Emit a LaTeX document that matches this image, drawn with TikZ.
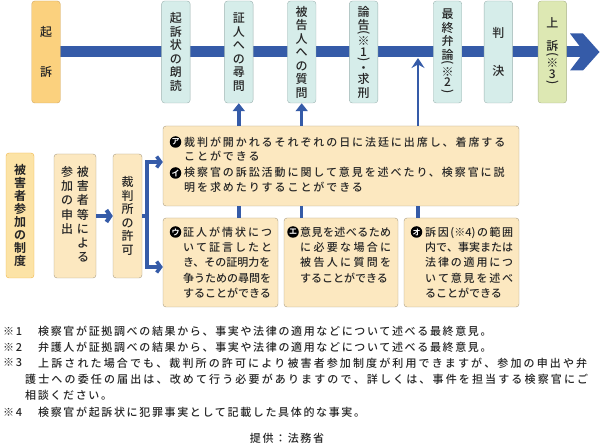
\documentclass[tikz,border=0pt]{standalone}
\usepackage{fontspec}
\setmainfont{Noto Sans CJK JP}[UprightFont=* Medium, BoldFont=* Bold]
\newfontfamily\jpwide{Noto Sans CJK JP}[UprightFont=* Medium, LetterSpace=17.5]
\newfontfamily\jpnote{Noto Sans CJK JP}[UprightFont=* Medium, LetterSpace=15]
\usepackage{graphicx}
\usetikzlibrary{arrows.meta,backgrounds,positioning}

\definecolor{flowblue}{HTML}{355BA8}
\definecolor{tealfill}{HTML}{D6EDEA}
\definecolor{tealedge}{HTML}{9DB3B1}
\definecolor{kisofill}{HTML}{FBD17E}
\definecolor{kisoedge}{HTML}{D3A65C}
\definecolor{appealfill}{HTML}{DDE8B3}
\definecolor{appealedge}{HTML}{A9B38A}
\definecolor{creamfill}{HTML}{FCE8C0}
\definecolor{creamedge}{HTML}{A99C82}
\definecolor{systemfill}{HTML}{FCE3A6}
\definecolor{systemedge}{HTML}{F0B445}
\definecolor{textgrey}{HTML}{262626}

% vertical brackets for the stacked labels
\newcommand\vparen[1]{\rotatebox[origin=c]{-90}{#1}}

% stretch one line of kana/kanji to a given width
\makeatletter
\newcommand\spreadline[2]{\makebox[#1][s]{\spread@first#2\@nil}}
\def\spread@first#1{#1\spread@rest}
\def\spread@rest#1{\ifx\@nil#1\else\hfil#1\expandafter\spread@rest\fi}
\makeatother

\begin{document}
\begin{tikzpicture}[x=1pt,y=-1pt,
  stage/.style={draw=tealedge, fill=tealfill, rounded corners=3pt, minimum width=28.5pt,
    minimum height=102pt, inner sep=0pt, align=center, text=textgrey,
    font=\fontsize{12}{13.5}\selectfont},
  lowbox/.style={draw=creamedge, fill=creamfill, rounded corners=3pt, inner sep=0pt},
  boxtext/.style={inner sep=0pt, align=left, anchor=west, text=textgrey,
    font=\fontsize{11}{15.2}\selectfont},
  widetext/.style={boxtext, font=\jpwide\fontsize{11}{14.5}\selectfont},
  marker/.style={circle, fill=black, text=white, inner sep=0pt, minimum size=11.5pt,
    font=\bfseries\fontsize{8}{8}\selectfont},
  note/.style={inner sep=0pt, anchor=west, text=textgrey, font=\jpnote\fontsize{11}{13}\selectfont},
  bar/.style={draw=flowblue, line width=11pt},
  link/.style={draw=flowblue, line width=3.5pt},
  uparrow/.style={link, -{Triangle[length=8pt,width=12pt]}},
  chev/.style={link, line width=4pt, -{Straight Barb[length=4pt,width=12pt]}},
  thinup/.style={draw=flowblue, line width=2.6pt, -{Stealth[length=10pt,width=13pt,inset=3.5pt]}}]

\path[use as bounding box] (0,0) rectangle (600,446);

% the trial, left to right
\node (kiso) [stage, draw=kisoedge, fill=kisofill] at (46,52) {起\\[26pt]訴};
\node (reading) [stage, right=101pt of kiso] {起\\訴\\状\\の\\朗\\読};
\node (witness) [stage, right=34pt of reading] {証\\人\\へ\\の\\尋\\問};
\node (defendant) [stage, right=34pt of witness] {被\\告\\人\\へ\\の\\質\\問};
\node (argument) [stage, right=33pt of defendant]
  {論\\告\\[-7pt]\vparen{(}\\[-4pt]※\\[-3pt]1\\[-6pt]\vparen{)}\\[-5pt]・\\[-2pt]求\\刑};
\node (closing) [stage, right=55pt of argument]
  {最\\終\\弁\\論\\[-6pt]\vparen{(}\\[-4pt]※\\[-3pt]2\\[-5pt]\vparen{)}};
\node (verdict) [stage, right=22pt of closing] {判\\[25pt]決};
\node (appeal) [stage, draw=appealedge, fill=appealfill, right=25pt of verdict]
  {上\\[10pt]訴\\[-6pt]\vparen{(}\\[-4pt]※\\[-3pt]3\\[-5pt]\vparen{)}};

\coordinate (barend) at (584,52);
\coordinate (jn) at (418,58);
\begin{scope}[on background layer]
  \draw[bar] (kiso.east) -- (barend);
\end{scope}
\fill[flowblue] (570,33.5) -- (583,33.5) -- (599.5,52) -- (583,70.5) -- (570,70.5) -- (584,52) -- cycle;

% victim participation
\node (system) [draw=systemedge, fill=systemfill, rounded corners=3pt, minimum width=28pt,
  minimum height=125pt, inner sep=0pt, align=center, text=textgrey,
  font=\bfseries\fontsize{12}{13}\selectfont] at (20,215.5)
  {被\\害\\者\\参\\加\\の\\制\\度};
\node (apply) [lowbox, minimum width=42pt, minimum height=124pt,
  font=\fontsize{12}{14}\selectfont, text=textgrey] at (75,216)
  {\begin{tabular}{@{}c@{\hspace{4pt}}c@{}}参&被\\加&害\\の&者\\申&等\\出&に\\&よ\\&る\end{tabular}};
\node (permit) [lowbox, minimum width=29pt, minimum height=124pt, align=center,
  font=\fontsize{12}{13.6}\selectfont, text=textgrey] at (127.5,216)
  {裁\\判\\所\\の\\許\\可};

% what the victim may do
\node (aibox) [lowbox, minimum width=356pt, minimum height=80pt] at (341,166) {};
\node (ubox) [lowbox, minimum width=115pt, minimum height=89pt] at (220.5,262.5) {};
\node (ebox) [lowbox, minimum width=114pt, minimum height=89pt] at (341,262.5) {};
\node (obox) [lowbox, minimum width=115pt, minimum height=89pt] at (461.5,262.5) {};

\node (amark) [marker] at (175.5,142) {ア};
\node (atext) [widetext] at (184,149)
  {裁判が開かれるそれぞれの日に法廷に出席し、着席する\\ことができる};
\node (imark) [marker] at (175.5,173) {イ};
\node (itext) [widetext] at (184,180)
  {検察官の訴訟活動に関して意見を述べたり、検察官に説\\明を求めたりすることができる};

\node (umark) [marker] at (175.5,232) {ウ};
\node (utext) [boxtext] at (183,262.5)
  {\spreadline{89pt}{証人が情状につ}\\\spreadline{89pt}{いて証言したと}\\き、その証明力を\\争うための尋問を\\することができる};
\node (emark) [marker] at (293,232) {エ};
\node (etext) [boxtext] at (300,255)
  {\spreadline{91pt}{意見を述べるため}\\\spreadline{91pt}{に必要な場合に}\\\spreadline{91pt}{被告人に質問を}\\することができる};
\node (omark) [marker] at (416.5,232) {オ};
\node (otext) [boxtext] at (425,262.5)
  {\makebox[88pt][s]{訴\hfil 因\hfil(※4)\hfil の\hfil 範\hfil 囲}\\\spreadline{88pt}{内で、事実または}\\\spreadline{88pt}{法律の適用につ}\\\spreadline{88pt}{いて意見を述べ}\\ることができる};

% connectors
\draw[chev] (apply.east) -- (permit.west);
\coordinate (forktop) at (147,162);
\coordinate (forkbot) at (147,267);
\draw[link] (permit.east) -- (permit.east -| forktop);
\draw[link, {Straight Barb[length=4pt,width=11pt]}-{Straight Barb[length=4pt,width=11pt]}]
  (forktop -| aibox.west) -- (forktop) -- (forkbot) -- (forkbot -| ubox.west);

\draw[uparrow] (witness |- aibox.north) -- (witness.south);
\draw[uparrow] (defendant |- aibox.north) -- (defendant.south);
\draw[thinup] (jn |- aibox.north) -- (jn);

\draw[link] (witness |- aibox.south) -- (witness |- ubox.north);
\draw[link] (defendant |- aibox.south) -- (defendant |- ebox.north);
\draw[link] (jn |- aibox.south) -- (jn |- obox.north);

% notes
\node (fn1mark) [note] at (3,331) {※1};
\node (fn1) [note] at (38,331) {検察官が証拠調べの結果から、事実や法律の適用などについて述べる最終意見。};
\node (fn2mark) [note] at (3,347) {※2};
\node (fn2) [note] at (38,347) {弁護人が証拠調べの結果から、事実や法律の適用などについて述べる最終意見。};
\node (fn3mark) [note] at (3,363) {※3};
\node (fn3a) [note] at (38,363)
  {\spreadline{549pt}{上訴された場合でも、裁判所の許可により被害者参加制度が利用できますが、参加の申出や弁}};
\node (fn3b) [note] at (25,379)
  {\spreadline{563pt}{護士への委任の届出は、改めて行う必要がありますので、詳しくは、事件を担当する検察官にご}};
\node (fn3c) [note] at (25,395) {相談ください。};
\node (fn4mark) [note] at (3,412) {※4};
\node (fn4) [note] at (38,412) {検察官が起訴状に犯罪事実として記載した具体的な事実。};
\node (source) [note, anchor=center] at (287,438) {提供：法務省};
\end{tikzpicture}
\end{document}
